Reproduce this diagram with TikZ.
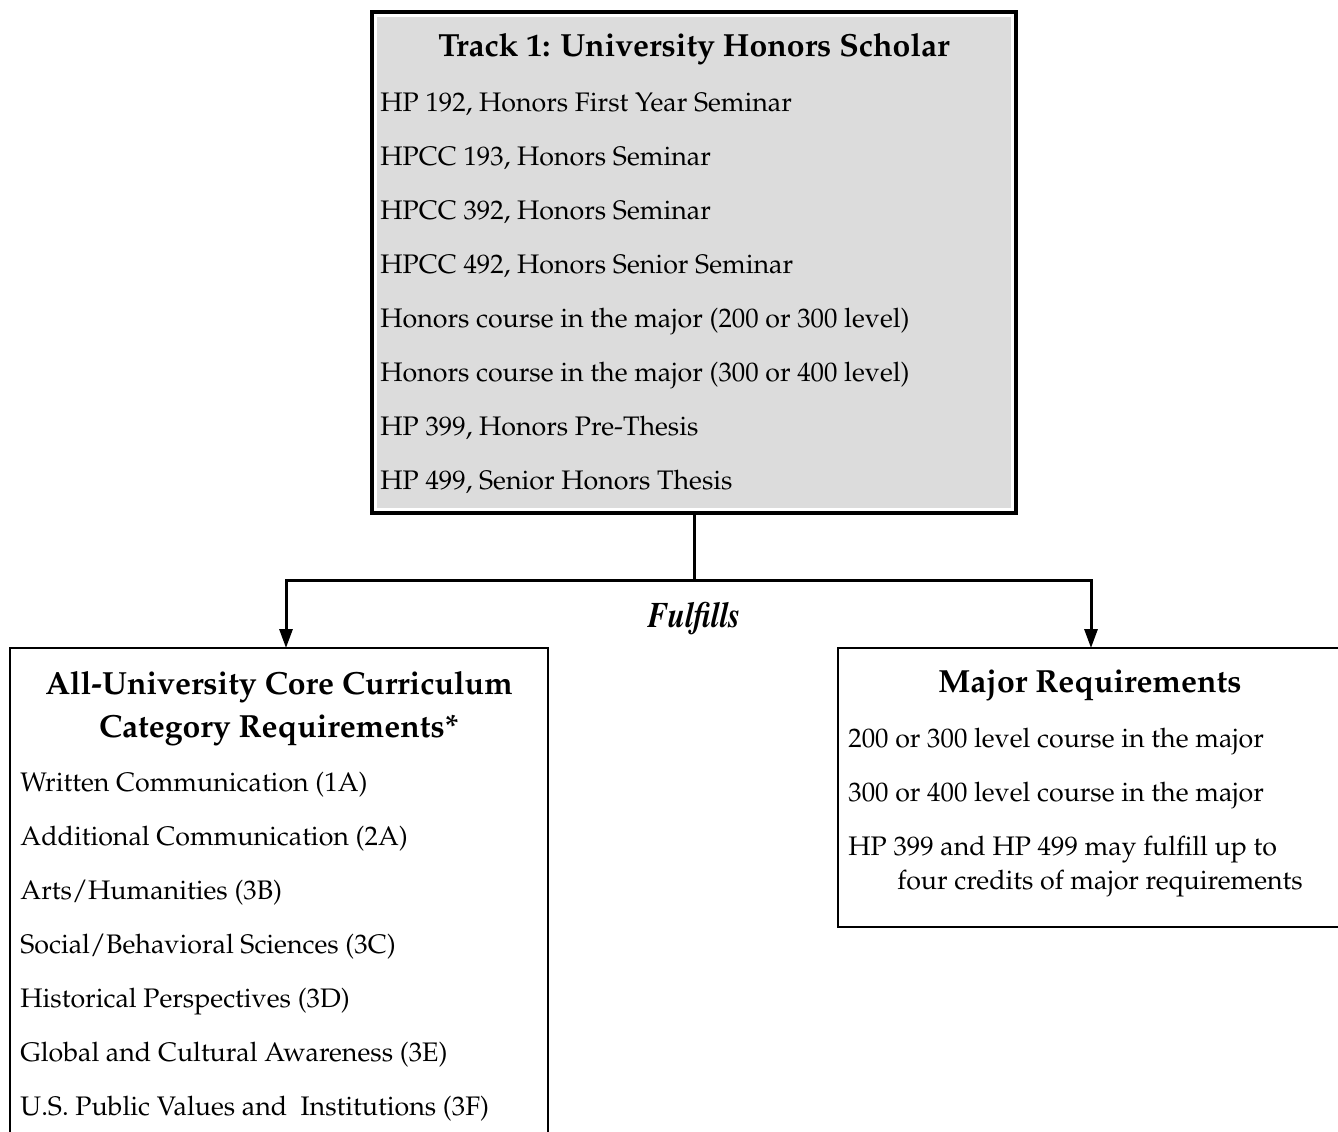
\documentclass[tikz,border=0pt]{standalone}
\usepackage[T1]{fontenc}
\usepackage{mathpazo}
\usepackage{graphicx}
\usetikzlibrary{arrows.meta}

\definecolor{trackgray}{RGB}{220,220,220}

\tikzset{
  box/.style={draw, inner sep=0pt, outer sep=0pt, anchor=north west},
  head/.style={font=\fontsize{16}{19}\selectfont\bfseries, anchor=base, inner sep=0pt},
  item/.style={font=\fontsize{13.4}{16}\selectfont, anchor=base west, inner sep=0pt},
  link/.style={line width=1.5pt},
  tip/.style={link, -{Triangle[width=6.5pt,length=9.5pt]}}
}

\begin{document}
\begin{tikzpicture}[x=0.5pt, y=-0.5pt]
\useasboundingbox (0,0) rectangle (1338,1131);

% Track box
\node[box, line width=2pt, minimum width=322pt, minimum height=250.5pt] (track) at (372,12) {};
\fill[trackgray] ([xshift=2.5pt,yshift=-2.5pt]track.north west) rectangle ([xshift=-2.5pt,yshift=2.5pt]track.south east);
\node[head] (trackhead) at (694,56) {Track 1: University Honors Scholar};
\node[item] (tr1) at (380,111) {HP 192, Honors First Year Seminar};
\node[item] (tr2) at (380,165) {HPCC 193, Honors Seminar};
\node[item] (tr3) at (380,219) {HPCC 392, Honors Seminar};
\node[item] (tr4) at (380,273) {HPCC 492, Honors Senior Seminar};
\node[item] (tr5) at (380,327) {Honors course in the major (200 or 300 level)};
\node[item] (tr6) at (380,381) {Honors course in the major (300 or 400 level)};
\node[item] (tr7) at (380,435) {HP 399, Honors Pre-Thesis};
\node[item] (tr8) at (380,489) {HP 499, Senior Honors Thesis};

% Core curriculum box
\node[box, line width=1.25pt, minimum width=269pt, minimum height=246pt] (core) at (10,648) {};
\node[head] (corehead1) at (279,694) {All-University Core Curriculum};
\node[head] (corehead2) at (279,737) {Category Requirements*};
\node[item] (co1) at (20,791) {Written Communication (1A)};
\node[item] (co2) at (20,845) {Additional Communication (2A)};
\node[item] (co3) at (20,899) {Arts/Humanities (3B)};
\node[item] (co4) at (20,953) {Social/Behavioral Sciences (3C)};
\node[item] (co5) at (20,1007) {Historical Perspectives (3D)};
\node[item] (co6) at (20,1061) {Global and Cultural Awareness (3E)};
\node[item] (co7) at (20,1115) {U.S. Public Values and\ \ Institutions (3F)};

% Major box
\node[box, line width=1.25pt, minimum width=253.5pt, minimum height=139.5pt] (major) at (838,648) {};
\node[head] (majorhead) at (1090,692) {Major Requirements};
\node[item] (ma1) at (848,747) {200 or 300 level course in the major};
\node[item] (ma2) at (848,801) {300 or 400 level course in the major};
\node[item] (ma3) at (848,855) {HP 399 and HP 499 may fulfill up to};
\node[item] (ma4) at (897,889) {four credits of major requirements};

% Connectors
\coordinate (split) at (track.south |- 0,580);
\coordinate (lsplit) at (286,580);
\coordinate (rsplit) at (1091,580);
\draw[link] (track.south) -- (split);
\draw[tip] (split) -- (lsplit) -- (lsplit |- core.north);
\draw[tip] (split) -- (rsplit) -- (rsplit |- major.north);
\node[font=\fontsize{18}{20}\fontfamily{ptm}\selectfont\bfseries\itshape, anchor=base, inner sep=0pt] (fulfills) at (694,627) {\scalebox{0.86}[1]{Fulfills}};
\end{tikzpicture}
\end{document}
